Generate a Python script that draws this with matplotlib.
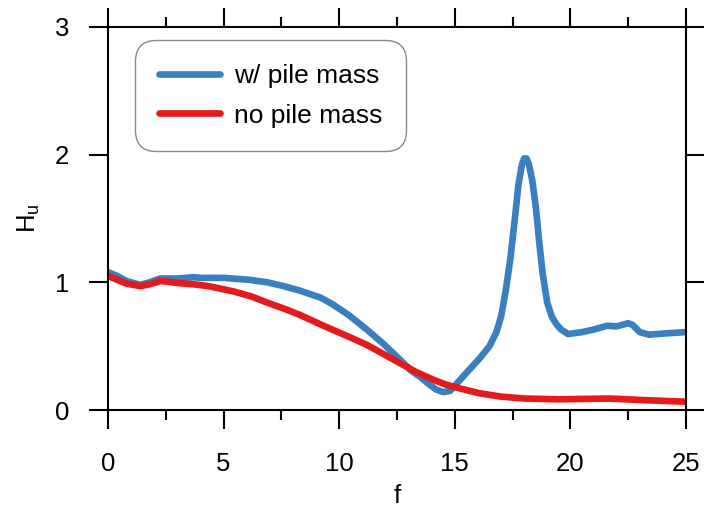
import matplotlib
matplotlib.use("Agg")
import matplotlib.pyplot as plt
from matplotlib.ticker import MultipleLocator

# ============================================
# DATA
# ============================================

f_pile = [0.0, 0.4, 0.8, 1.4, 1.8, 2.25, 2.6, 3.0, 3.7, 4.0, 5.0, 6.1, 6.9,
          7.6, 8.3, 9.2, 9.7, 10.4, 11.2, 11.9, 12.6, 13.1, 13.5, 13.9, 14.2,
          14.5, 14.8, 15.2, 15.6, 16.1, 16.5, 16.8, 17.0, 17.2, 17.4, 17.6,
          17.75, 17.9, 18.0, 18.1, 18.2, 18.35, 18.5, 18.65, 18.8, 19.0,
          19.2, 19.4, 19.6, 19.9, 20.5, 21.0, 21.6, 22.0, 22.3, 22.5, 22.7,
          23.0, 23.4, 24.1, 25.0]
h_pile = [1.08, 1.05, 1.01, 0.98, 1.00, 1.03, 1.03, 1.03, 1.04, 1.035,
          1.035, 1.02, 1.00, 0.97, 0.935, 0.88, 0.83, 0.745, 0.63, 0.52,
          0.40, 0.31, 0.26, 0.20, 0.16, 0.14, 0.15, 0.23, 0.31, 0.41, 0.50,
          0.61, 0.73, 0.93, 1.18, 1.50, 1.76, 1.92, 1.97, 1.97, 1.93, 1.80,
          1.60, 1.32, 1.07, 0.84, 0.73, 0.67, 0.63, 0.595, 0.61, 0.63, 0.66,
          0.655, 0.67, 0.68, 0.665, 0.61, 0.59, 0.60, 0.61]

f_nopile = [0.0, 0.4, 0.8, 1.4, 1.8, 2.25, 2.6, 3.0, 3.7, 4.35, 5.4, 6.2,
            6.9, 7.6, 8.3, 9.2, 9.7, 10.4, 11.2, 11.9, 12.6, 13.3, 14.1, 14.6,
            15.2, 16.1, 17.0, 18.0, 19.5, 21.7, 23.1, 25.0]
h_nopile = [1.05, 1.02, 0.99, 0.97, 0.985, 1.01, 1.005, 0.995, 0.985, 0.97,
            0.93, 0.89, 0.84, 0.795, 0.745, 0.67, 0.63, 0.575, 0.51, 0.44,
            0.37, 0.30, 0.235, 0.20, 0.17, 0.13, 0.105, 0.09, 0.084, 0.09,
            0.078, 0.065]

labels = ["w/ pile mass", "no pile mass"]
colors = ["#3a80c1", "#e41a1c"]

# ============================================
# PLOT
# ============================================

plt.rcParams["font.family"] = ["Liberation Sans", "DejaVu Sans"]

fig = plt.figure(figsize=(7.04, 5.12), dpi=100)
ax = fig.add_axes([0.1534, 0.1992, 0.8210, 0.7481])

ax.plot(f_pile, h_pile, color=colors[0], lw=4.8, label=labels[0],
        solid_joinstyle="round", solid_capstyle="round")
ax.plot(f_nopile, h_nopile, color=colors[1], lw=4.8, label=labels[1],
        solid_joinstyle="round", solid_capstyle="round")

ax.set_xlim(0, 25)
ax.set_ylim(0, 3)
ax.xaxis.set_major_locator(MultipleLocator(5))
ax.xaxis.set_minor_locator(MultipleLocator(2.5))
ax.yaxis.set_major_locator(MultipleLocator(1))

ax.tick_params(which="both", direction="out", top=True, right=True,
               width=1.5, labelsize=18.5)
ax.tick_params(which="major", length=14)
ax.tick_params(which="minor", length=7)
ax.tick_params(axis="x", pad=16)
ax.tick_params(axis="y", pad=14)
for sp in ax.spines.values():
    sp.set_linewidth(1.5)

ax.set_xlabel("f", fontsize=18.5, labelpad=6)
ax.set_ylabel(r"H$_\mathregular{u}$", fontsize=18.5, labelpad=9)

leg = ax.legend(loc="upper left", bbox_to_anchor=(0.047, 0.966),
                borderaxespad=0, fontsize=19, handlelength=2.3,
                handletextpad=0.55, labelspacing=0.6, borderpad=0.9,
                fancybox=True, framealpha=1, edgecolor="#888888")
leg.get_frame().set_linewidth(1.0)
leg.get_frame().set_boxstyle("round,pad=0,rounding_size=0.8")

fig.savefig("out.png", dpi=100)
